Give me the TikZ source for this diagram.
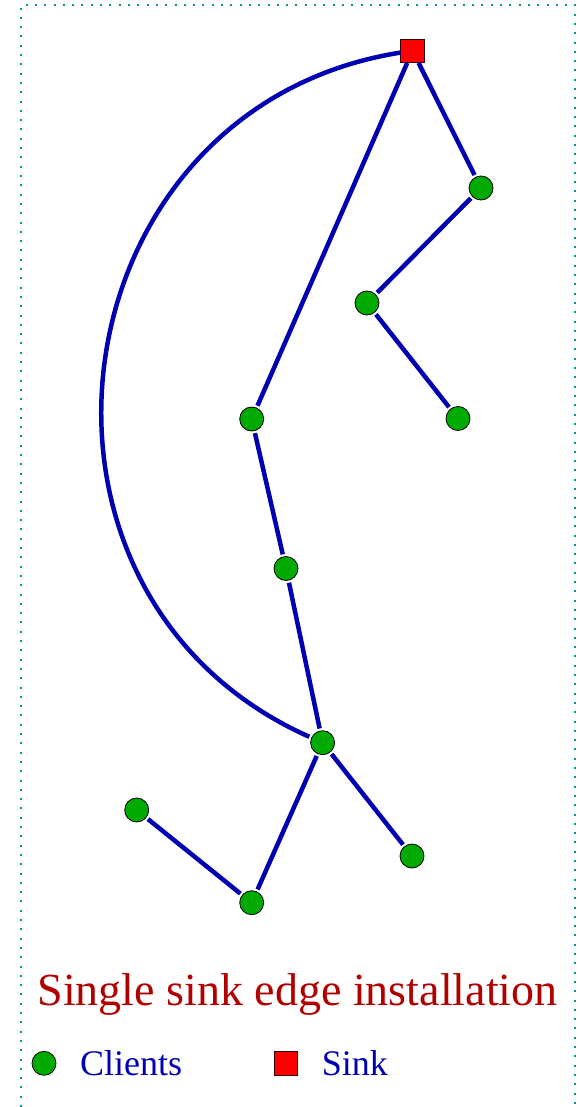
\documentclass[tikz,border=0pt]{standalone}
\usepackage{fontspec}
\setmainfont{Liberation Serif}
\definecolor{ssblue}{RGB}{0,0,178}
\definecolor{ssgreen}{RGB}{0,170,0}
\definecolor{ssred}{RGB}{255,0,0}
\definecolor{ssdarkred}{RGB}{178,0,0}
\definecolor{ssteal}{RGB}{0,150,150}
\usetikzlibrary{positioning}

\begin{document}
\begin{tikzpicture}[x=1pt,y=1pt,
  client/.style={circle,draw=black,line width=0.8pt,fill=ssgreen,minimum size=24pt,
    inner sep=0pt,outer sep=2.5pt},
  sinknode/.style={rectangle,draw=black!80!red,line width=0.8pt,fill=ssred,minimum size=23.5pt,
    inner sep=0pt},
  link/.style={draw=ssblue,line width=4.5pt},
  legendtext/.style={text=ssblue,font=\fontsize{36}{43}\selectfont,inner sep=0pt,anchor=base west}
]
  \useasboundingbox (0,0) rectangle (579,-1107);
  % Frame
  \draw[ssteal,line width=1.3pt,dash pattern=on 2pt off 7.3pt]
    (21,-1107) -- (21,-5) -- (575,-5) -- (575,-1107);
  % Nodes
  \node[sinknode] (sink) at (412.5,-50.7) {};
  \node[client] (c1) at (481,-188) {};
  \node[client] (c2) at (367,-303) {};
  \node[client] (c3) at (458,-418.5) {};
  \node[client] (c4) at (251.7,-419) {};
  \node[client] (c5) at (286,-568.5) {};
  \node[client] (c6) at (322.6,-742.7) {};
  \node[client] (c7) at (136.7,-810) {};
  \node[client] (c8) at (412,-856) {};
  \node[client] (c9) at (251.7,-902.7) {};
  % Edges
  \draw[link] (sink) -- (c1);
  \draw[link] (c1) -- (c2);
  \draw[link] (c2) -- (c3);
  \draw[link] (sink) -- (c4);
  \draw[link] (c4) -- (c5);
  \draw[link] (c5) -- (c6);
  \draw[link] (c6) -- (c8);
  \draw[link] (c6) -- (c9);
  \draw[link] (c9) -- (c7);
  \draw[link] (sink) to[out=189,in=156,looseness=1.3] (c6);
  % Title and legend
  \node[text=ssdarkred,font=\fontsize{46}{55}\selectfont,inner sep=0pt,anchor=base]
    (title) at (297.5,-1005) {Single sink edge installation};
  \node[client,outer sep=0pt] (legc) at (44,-1063.3) {};
  \node[legendtext] (legclients) at (80,-1075) {Clients};
  \node[sinknode] (legs) at (285.7,-1063.3) {};
  \node[legendtext] (legsink) at (321.7,-1075) {Sink};
\end{tikzpicture}
\end{document}
